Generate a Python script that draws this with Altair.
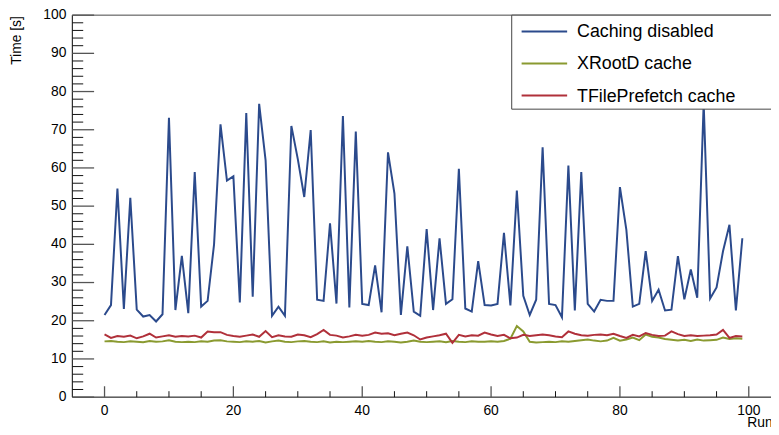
import altair as alt
import pandas as pd

runs = list(range(100))

caching_disabled = [
    21.5, 24.1, 54.6, 23.1, 52.2, 22.9, 21.1, 21.5, 19.8, 21.7,
    73.1, 22.8, 37.0, 22.0, 58.9, 23.7, 25.2, 40.0, 71.4, 56.7,
    57.8, 24.8, 74.4, 26.3, 76.8, 62.0, 21.3, 23.7, 21.3, 71.0,
    62.3, 52.4, 69.9, 25.5, 25.2, 45.5, 24.5, 73.6, 23.5, 69.5,
    24.4, 24.1, 34.5, 22.2, 64.1, 53.3, 21.5, 39.5, 22.4, 21.3,
    44.0, 22.8, 41.6, 24.4, 25.6, 59.8, 23.2, 22.4, 35.6, 24.1,
    24.0, 24.4, 43.0, 24.0, 54.1, 26.5, 21.5, 25.5, 65.4, 24.4,
    24.1, 20.9, 60.6, 22.7, 58.9, 24.4, 22.4, 25.5, 25.2, 25.2,
    55.0, 43.8, 23.7, 24.4, 38.2, 25.2, 28.1, 22.7, 22.9, 36.9,
    25.6, 33.4, 26.0, 77.0, 25.8, 28.7, 38.2, 45.1, 22.7, 41.6,
]

xrootd_cache = [
    14.6, 14.7, 14.5, 14.4, 14.6, 14.5, 14.4, 14.7, 14.5, 14.6,
    14.9, 14.5, 14.4, 14.5, 14.4, 14.6, 14.5, 14.8, 14.9, 14.6,
    14.5, 14.4, 14.6, 14.5, 14.7, 14.3, 14.6, 14.8, 14.5, 14.4,
    14.6, 14.7, 14.5, 14.4, 14.6, 14.3, 14.5, 14.4, 14.5, 14.6,
    14.5, 14.7, 14.5, 14.4, 14.6, 14.5, 14.3, 14.5, 14.8, 14.5,
    14.4, 14.5, 14.6, 14.4, 14.7, 14.5, 14.4, 14.6, 14.5, 14.5,
    14.6, 14.5, 14.7, 15.3, 18.6, 17.2, 14.5, 14.3, 14.4, 14.5,
    14.4, 14.6, 14.5, 14.7, 14.9, 15.1, 14.8, 14.6, 14.8, 15.5,
    14.8, 15.1, 15.6, 14.9, 16.4, 15.8, 15.6, 15.2, 15.0, 14.8,
    15.0, 14.7, 15.1, 14.8, 14.9, 15.0, 15.6, 15.2, 15.4, 15.3,
]

tfileprefetch_cache = [
    16.4, 15.5, 16.0, 15.8, 16.1, 15.4, 15.9, 16.6, 15.6, 15.9,
    16.2, 15.8, 16.0, 15.9, 16.1, 15.6, 17.2, 17.0, 17.0, 16.3,
    16.0, 15.8, 16.1, 16.4, 15.8, 17.3, 15.7, 16.2, 15.9, 15.8,
    16.4, 16.2, 15.7, 16.5, 17.6, 16.3, 16.1, 15.6, 15.9, 16.3,
    16.1, 16.3, 16.9, 16.6, 16.7, 16.2, 16.6, 16.9, 16.2, 15.1,
    15.6, 15.9, 16.2, 16.6, 14.2, 16.3, 15.9, 16.2, 16.1, 16.9,
    16.4, 16.0, 16.3, 15.4, 15.6, 16.3, 16.0, 16.2, 16.4, 16.2,
    15.9, 15.7, 17.2, 16.6, 16.2, 16.1, 16.3, 16.4, 16.2, 16.6,
    16.0, 15.5, 16.3, 15.9, 16.8, 16.3, 16.0, 16.1, 17.2, 16.5,
    16.0, 16.2, 16.0, 16.1, 16.2, 16.4, 17.6, 15.5, 16.0, 15.9,
]

series_names = ["Caching disabled", "XRootD cache", "TFilePrefetch cache"]
series_colors = ["#2b4a8c", "#8a9a30", "#b0303a"]

y_major_ticks = list(range(0, 101, 10))
y_minor_ticks = [v for v in range(0, 101, 2) if v % 10 != 0]
x_major_ticks = list(range(0, 101, 20))
x_minor_ticks = [v for v in range(0, 101, 5) if v % 20 != 0]

x_title = "Run"
y_title = "Time [s]"

W, H = 706, 386
FONT = "Liberation Sans"
XMIN, XMAX = -5, 103.45
YMIN, YMAX = 0, 100

rows = []
for name, vals in zip(series_names, [caching_disabled, xrootd_cache, tfileprefetch_cache]):
    for r, v in zip(runs, vals):
        rows.append({"Run": r, "Time": v, "series": name})
df = pd.DataFrame(rows)

xscale = alt.Scale(domain=[XMIN, XMAX], nice=False, zero=False)
yscale = alt.Scale(domain=[YMIN, YMAX], nice=False, zero=False)

# pixel lengths converted to data units
XU = (XMAX - XMIN) / W
YU = (YMAX - YMIN) / H


def Y(field="Time"):
    return alt.Y(f"{field}:Q", scale=yscale, axis=None)


def X(field="Run"):
    return alt.X(f"{field}:Q", scale=xscale, axis=None)


lines = alt.Chart(df).mark_line(strokeWidth=2).encode(
    x=X(), y=Y(),
    color=alt.Color("series:N",
                    scale=alt.Scale(domain=series_names, range=series_colors),
                    legend=None),
)

# frame / domain lines
left_dom = alt.Chart(pd.DataFrame({"k": [0]})).mark_rule(color="black", strokeWidth=1).encode(
    x=alt.value(0), y=alt.value(0), y2=alt.value(H))
bottom_dom = alt.Chart(pd.DataFrame({"k": [1]})).mark_rule(color="black", strokeWidth=1).encode(
    y=alt.value(H), x=alt.value(0), x2=alt.value(W))
top = alt.Chart(pd.DataFrame({"Time": [100]})).mark_rule(color="#444444", strokeWidth=1).encode(
    y=Y(), x=alt.value(0), x2=alt.value(W))


def ytick_layer(name, vals, length_px, color, width):
    return alt.Chart(pd.DataFrame({"tickY": vals, "kind": [name] * len(vals)})).transform_calculate(
        tx0=f"{XMIN}", tx1=f"{XMIN} + {length_px * XU}"
    ).mark_rule(color=color, strokeWidth=width).encode(
        y=Y("tickY"), x=X("tx0"), x2="tx1:Q")


def xtick_layer(name, vals, length_px, color, width):
    return alt.Chart(pd.DataFrame({"tickX": vals, "kind": [name] * len(vals)})).transform_calculate(
        ty0=f"{YMIN}", ty1=f"{YMIN} + {length_px * YU}"
    ).mark_rule(color=color, strokeWidth=width).encode(
        x=X("tickX"), y=Y("ty0"), y2="ty1:Q")


ymaj = ytick_layer("ymajor", y_major_ticks, 22, "#555555", 1.3)
ymin = ytick_layer("yminor", y_minor_ticks, 11, "#111111", 1)
xmaj = xtick_layer("xmajor", x_major_ticks, 11, "#555555", 1.3)
xmin = xtick_layer("xminor", x_minor_ticks, 6, "#111111", 1)

# tick labels
ylab = alt.Chart(pd.DataFrame({"Time": y_major_ticks})).mark_text(
    align="right", baseline="middle", fontSize=14, font=FONT, color="black").encode(
    y=Y(), x=alt.value(-6), text=alt.Text("Time:Q", format="d"))
xlab = alt.Chart(pd.DataFrame({"Run": x_major_ticks})).mark_text(
    align="center", baseline="top", fontSize=14, font=FONT, color="black").encode(
    x=X(), y=alt.value(H + 7), text=alt.Text("Run:Q", format="d"))

# axis titles
ytit = alt.Chart(pd.DataFrame({"t": [y_title]})).mark_text(
    align="right", baseline="middle", angle=270, fontSize=14, font=FONT, color="black").encode(
    x=alt.value(-56), y=alt.value(1), text="t:N")
xtit = alt.Chart(pd.DataFrame({"t": [x_title]})).mark_text(
    align="left", baseline="alphabetic", fontSize=14, font=FONT, color="black").encode(
    x=alt.value(682), y=alt.value(H + 30), text="t:N")

# legend box drawn on top of the lines
LX, LY, LH = 444, 0, 95
legend_layers = [
    alt.Chart(pd.DataFrame({"k": [2]})).mark_rect(fill="white", stroke="#444444", strokeWidth=1).encode(
        x=alt.value(LX), x2=alt.value(W + 4), y=alt.value(LY), y2=alt.value(LY + LH))
]
for k, (name, col) in enumerate(zip(series_names, series_colors)):
    yy = LY + 16.5 + 32.4 * k
    ldf = pd.DataFrame({"series": [name]})
    legend_layers.append(
        alt.Chart(ldf).mark_rule(color=col, strokeWidth=2).encode(
            x=alt.value(LX + 10), x2=alt.value(LX + 56), y=alt.value(yy)))
    legend_layers.append(
        alt.Chart(ldf).mark_text(align="left", baseline="middle", fontSize=18, font=FONT,
                                 color="black").encode(
            x=alt.value(LX + 66), y=alt.value(yy + 1), text="series:N"))

chart = alt.layer(
    lines, left_dom, bottom_dom, top,
    ylab, xlab, ytit, xtit, *legend_layers,
    ymaj, ymin, xmaj, xmin,
).properties(
    width=W, height=H,
    autosize=alt.AutoSizeParams(type="none"),
    padding={"left": 65, "top": 5, "right": 0, "bottom": 32},
).configure_view(stroke=None)

chart.save("out.html", embed_options={"renderer": "svg", "actions": False})
